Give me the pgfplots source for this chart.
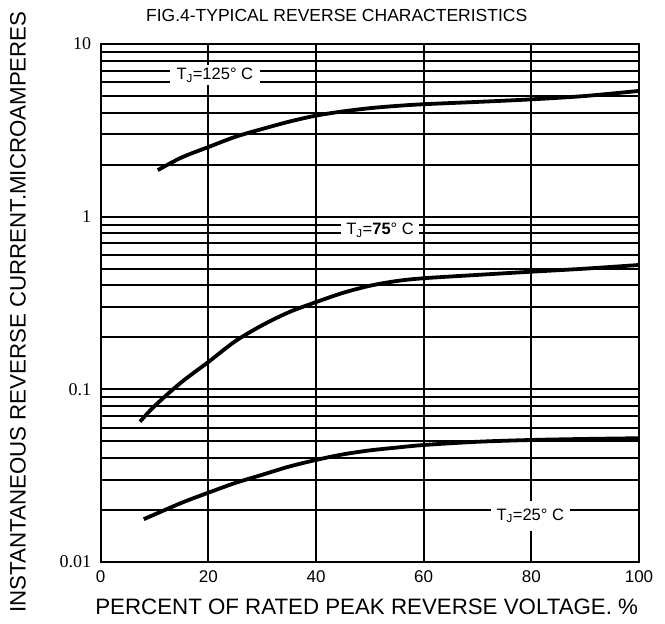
\documentclass[border=0pt]{standalone}
\usepackage{fontspec}
\setmainfont{Liberation Sans}
\newfontfamily\seriffont{Liberation Serif}
\usepackage{pgfplots}
\pgfplotsset{compat=1.18}
\pgfplotstableread{
x y
10.6 1.86
15 2.20
20 2.53
25 2.90
30 3.22
35 3.55
40 3.85
45 4.07
50 4.25
55 4.38
60 4.48
70 4.62
80 4.78
90 5.00
100 5.35
}\tjhigh
\pgfplotstableread{
x y
7.3 0.065
10 0.080
15 0.110
20 0.144
25 0.190
30 0.235
35 0.280
40 0.320
45 0.362
50 0.398
55 0.424
60 0.440
70 0.460
80 0.480
90 0.500
100 0.525
}\tjmid
\pgfplotstableread{
x y
8.0 0.0177
15 0.0220
20 0.0252
25 0.0287
30 0.0320
35 0.0357
40 0.0390
45 0.0420
50 0.0443
55 0.0460
60 0.0476
70 0.0497
80 0.0509
90 0.0516
100 0.0521
}\tjlow
\begin{document}
\begin{tikzpicture}[x=1pt,y=1pt]
\useasboundingbox (-100.7,-62) rectangle (564.3,562);
\begin{axis}[
  at={(0,0)}, anchor=south west,
  width=538.3pt, height=518pt, scale only axis,
  xmin=0, xmax=100, ymode=log, ymin=0.01, ymax=10,
  xtick={0,20,40,60,80,100},
  ytick={0.01,0.1,1,10},
  yticklabels={0.01,0.1,1,10},
  minor ytick={0.02,0.03,0.04,0.05,0.06,0.07,0.08,0.09,0.2,0.3,0.4,0.5,0.6,0.7,0.8,0.9,2,3,4,5,6,7,8,9},
  /pgf/number format/assume math mode=true,
  xticklabel style={font=\fontsize{17}{17}\selectfont, yshift=-5pt},
  yticklabel style={font=\seriffont\fontsize{18}{18}\selectfont, xshift=-6pt},
  major tick length=0pt, minor tick length=0pt,
  grid=both,
  major grid style={black, line width=2pt},
  minor grid style={black, line width=2pt},
  axis line style={black, line width=2pt},
  clip=false,
]
\addplot[black, line width=3.8pt, smooth] table {\tjhigh};
\addplot[black, line width=3.8pt, smooth] table {\tjmid};
\addplot[black, line width=3.8pt, smooth] table {\tjlow};
\node[fill=white, inner xsep=7pt, inner ysep=3pt, font=\fontsize{16.5}{16.5}\selectfont] at (axis cs:21.2,6.6) {T\textsubscript{J}=125° C};
\node[fill=white, inner xsep=5pt, inner ysep=4pt, font=\fontsize{16.5}{16.5}\selectfont] at (axis cs:51.9,0.837) {T\textsubscript{J}=\textbf{75}° C};
\node[fill=white, inner xsep=6pt, inner ysep=8pt, font=\fontsize{16.5}{16.5}\selectfont] at (axis cs:79.8,0.0185) {T\textsubscript{J}=25° C};
\end{axis}
\node[font=\fontsize{17.5}{17.5}\selectfont] at (236,547) {FIG.4-TYPICAL REVERSE CHARACTERISTICS};
\node[font=\fontsize{22.3}{22.3}\selectfont] at (266,-45) {PERCENT OF RATED PEAK REVERSE VOLTAGE. \%};
\node[font=\fontsize{22.3}{22.3}\selectfont, rotate=90] at (-82.7,250) {INSTANTANEOUS REVERSE CURRENT.MICROAMPERES};
\end{tikzpicture}
\end{document}
